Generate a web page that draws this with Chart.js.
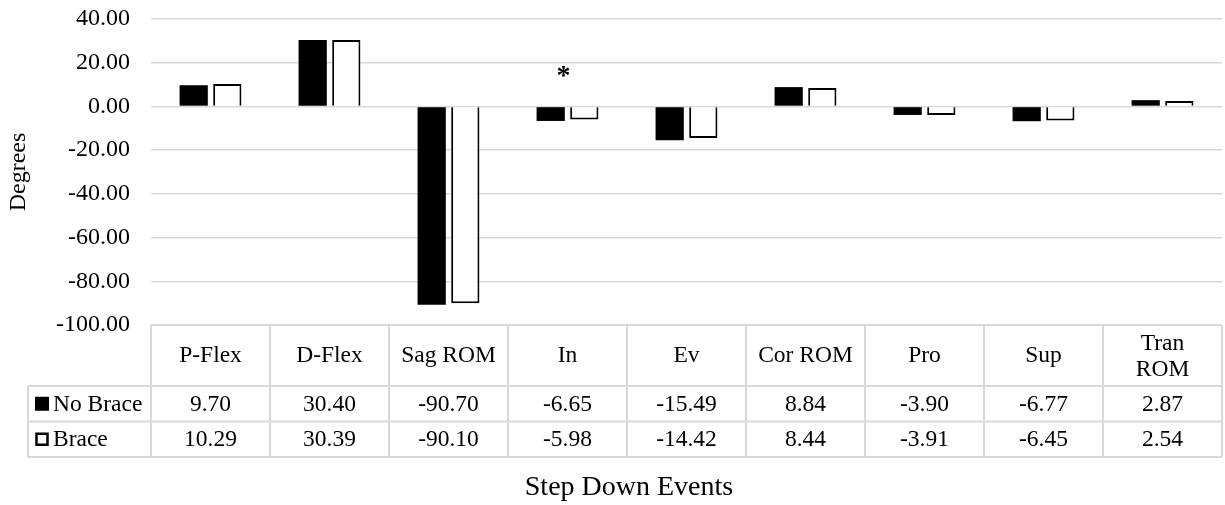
<!DOCTYPE html>
<html>
<head>
<meta charset="utf-8">
<script src="https://cdn.jsdelivr.net/npm/chart.js@4/dist/chart.umd.min.js"></script>
<style>
  body { margin: 0; background: #fff; }
  #wrap { width: 1225px; height: 505px; position: relative; }
</style>
</head>
<body>
<div id="wrap"><canvas id="barChart"></canvas></div>
<script>
// chart values
var categories = ['P-Flex', 'D-Flex', 'Sag ROM', 'In', 'Ev', 'Cor ROM', 'Pro', 'Sup', ['Tran', 'ROM']];
var noBrace = [9.70, 30.40, -90.70, -6.65, -15.49, 8.84, -3.90, -6.77, 2.87];
var brace = [10.29, 30.39, -90.10, -5.98, -14.42, 8.44, -3.91, -6.45, 2.54];
var seriesNames = ['No Brace', 'Brace'];
var yMin = -100, yMax = 40, yStep = 20;
var xTitle = 'Step Down Events';
var yTitle = 'Degrees';
var starCategory = 3; // asterisk above "In"
var starValue = 15;

var FONT = '"Liberation Serif", "Times New Roman", serif';

// draws the data table under the plot, the x title and the asterisk
var tablePlugin = {
	id: 'dataTable',
	afterDraw: function(chart) {
		var ctx = chart.ctx;
		var area = chart.chartArea;
		var x = chart.scales.x;
		var y = chart.scales.y;
		var colW = x.getPixelForValue(1) - x.getPixelForValue(0);
		var top = area.bottom;
		var headBottom = top + 61;
		var row1Bottom = headBottom + 35.5;
		var row2Bottom = row1Bottom + 35.5;
		var leftX = 28;

		ctx.save();
		ctx.strokeStyle = '#d9d9d9';
		ctx.lineWidth = 2;
		ctx.beginPath();
		ctx.moveTo(area.left, top); ctx.lineTo(area.right, top);
		[headBottom, row1Bottom, row2Bottom].forEach(function(yy) {
			ctx.moveTo(leftX, yy); ctx.lineTo(area.right, yy);
		});
		for (var i = 0; i <= categories.length; i++) {
			var ex = area.left + i * colW;
			ctx.moveTo(ex, top); ctx.lineTo(ex, row2Bottom);
		}
		ctx.moveTo(leftX, headBottom); ctx.lineTo(leftX, row2Bottom);
		ctx.stroke();

		ctx.fillStyle = '#000';
		ctx.font = '23.5px ' + FONT;
		ctx.textAlign = 'center';
		ctx.textBaseline = 'middle';
		for (var c = 0; c < categories.length; c++) {
			var cx = x.getPixelForValue(c);
			var lab = categories[c];
			if (Array.isArray(lab)) {
				ctx.fillText(lab[0], cx, top + 19);
				ctx.fillText(lab[1], cx, top + 45);
			} else {
				ctx.fillText(lab, cx, top + 31);
			}
			ctx.fillText(noBrace[c].toFixed(2), cx, (headBottom + row1Bottom) / 2 + 1);
			ctx.fillText(brace[c].toFixed(2), cx, (row1Bottom + row2Bottom) / 2 + 1);
		}

		// legend keys in the row headers
		ctx.fillStyle = '#000';
		ctx.fillRect(35, (headBottom + row1Bottom) / 2 - 7, 14, 14);
		ctx.strokeStyle = '#000';
		ctx.lineWidth = 2.5;
		ctx.strokeRect(36.5, (row1Bottom + row2Bottom) / 2 - 5.5, 11, 11);
		ctx.textAlign = 'left';
		ctx.fillText(seriesNames[0], 53, (headBottom + row1Bottom) / 2 + 1);
		ctx.fillText(seriesNames[1], 53, (row1Bottom + row2Bottom) / 2 + 1);

		// x axis title
		ctx.textAlign = 'center';
		ctx.font = '28px ' + FONT;
		ctx.fillText(xTitle, 629, 488);

		// significance mark
		ctx.font = 'bold 28px ' + FONT;
		ctx.fillText('*', x.getPixelForValue(starCategory) - 4, y.getPixelForValue(starValue) + 3);
		ctx.restore();
	}
};

var ctx = document.getElementById('barChart').getContext('2d');
var chart = new Chart(ctx, {
	type: 'bar',
	data: {
		labels: categories,
		datasets: [{
			label: seriesNames[0],
			data: noBrace,
			backgroundColor: '#000',
			borderColor: '#000',
			borderWidth: 0
		}, {
			label: seriesNames[1],
			data: brace,
			backgroundColor: '#fff',
			borderColor: '#000',
			borderWidth: 2
		}]
	},
	options: {
		responsive: true,
		maintainAspectRatio: false,
		animation: false,
		datasets: { bar: { categoryPercentage: 0.565, barPercentage: 0.84 } },
		layout: { padding: { top: 19, right: 3, bottom: 180, left: 0 } },
		plugins: { legend: { display: false }, tooltip: { enabled: false } },
		scales: {
			x: { display: false },
			y: {
				min: yMin, max: yMax,
				afterFit: function(scale) {
					scale.width = 151;
					scale.paddingTop = 0;
					scale.paddingBottom = 0;
				},
				border: { display: false },
				grid: { color: '#d9d9d9', lineWidth: 1.5, drawTicks: false },
				ticks: {
					stepSize: yStep, padding: 21, color: '#000',
					font: { family: FONT, size: 24 },
					callback: function(v) { return v.toFixed(2); }
				},
				title: {
					display: true, text: yTitle, color: '#000', padding: { top: 4, bottom: 0 },
					font: { family: FONT, size: 24 }
				}
			}
		}
	},
	plugins: [tablePlugin]
});
</script>
</body>
</html>
